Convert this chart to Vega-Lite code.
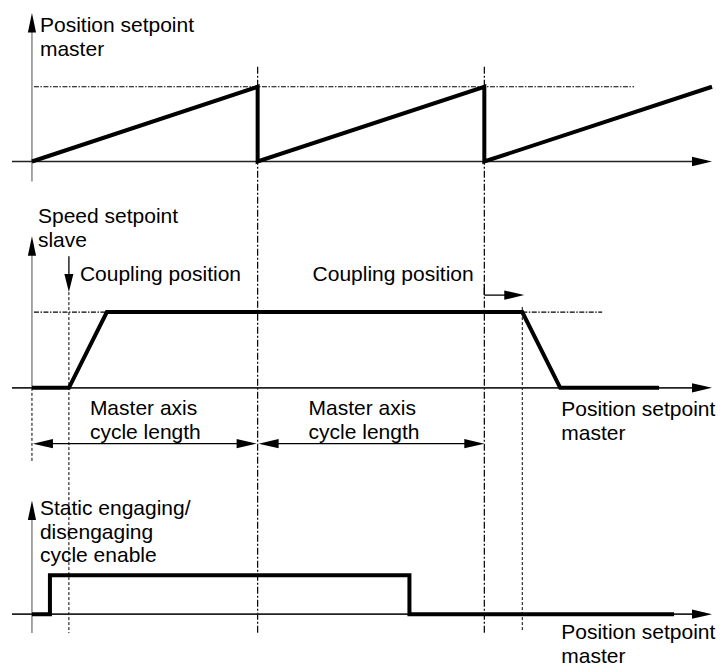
{
  "$schema": "https://vega.github.io/schema/vega-lite/v6.json",
  "width": 720,
  "height": 667,
  "autosize": {"type": "fit", "contains": "padding"},
  "padding": 0,
  "background": "white",
  "config": {"view": {"stroke": null}},
  "datasets": {
    "vaxes": [
      {"x": 32, "y": 30, "x2": 32, "y2": 182},
      {"x": 32, "y": 254, "x2": 32, "y2": 389},
      {"x": 32, "y": 519, "x2": 32, "y2": 635}
    ],
    "haxes": [
      {"x": 12, "y": 162, "x2": 700, "y2": 162},
      {"x": 12, "y": 389, "x2": 700, "y2": 389},
      {"x": 12, "y": 616, "x2": 700, "y2": 616}
    ],
    "thin": [
      {"x": 69, "y": 257, "x2": 69, "y2": 280},
      {"x": 485, "y": 285, "x2": 485, "y2": 296},
      {"x": 485, "y": 296, "x2": 510, "y2": 296},
      {"x": 45, "y": 445, "x2": 245, "y2": 445},
      {"x": 272, "y": 445, "x2": 472, "y2": 445}
    ],
    "dashdot": [
      {"x": 258, "y": 67, "x2": 258, "y2": 635},
      {"x": 485, "y": 67, "x2": 485, "y2": 635}
    ],
    "dashedV": [
      {"x": 69, "y": 293, "x2": 69, "y2": 635},
      {"x": 523, "y": 308, "x2": 523, "y2": 633},
      {"x": 32, "y": 389, "x2": 32, "y2": 463}
    ],
    "dashedH": [
      {"x": 34, "y": 87, "x2": 635, "y2": 87},
      {"x": 34, "y": 313, "x2": 107, "y2": 313},
      {"x": 523, "y": 313, "x2": 603, "y2": 313}
    ],
    "signals": [
      {"sig": "position", "i": 1, "x": 32, "y": 162},
      {"sig": "position", "i": 2, "x": 258, "y": 87},
      {"sig": "position", "i": 3, "x": 258, "y": 162},
      {"sig": "position", "i": 4, "x": 485, "y": 87},
      {"sig": "position", "i": 5, "x": 485, "y": 162},
      {"sig": "position", "i": 6, "x": 713, "y": 87},
      {"sig": "speed", "i": 1, "x": 32, "y": 389},
      {"sig": "speed", "i": 2, "x": 69, "y": 389},
      {"sig": "speed", "i": 3, "x": 107, "y": 313},
      {"sig": "speed", "i": 4, "x": 523, "y": 313},
      {"sig": "speed", "i": 5, "x": 561, "y": 389},
      {"sig": "speed", "i": 6, "x": 660, "y": 389},
      {"sig": "enable", "i": 1, "x": 32, "y": 616},
      {"sig": "enable", "i": 2, "x": 50, "y": 616},
      {"sig": "enable", "i": 3, "x": 50, "y": 577},
      {"sig": "enable", "i": 4, "x": 410, "y": 577},
      {"sig": "enable", "i": 5, "x": 410, "y": 616},
      {"sig": "enable", "i": 6, "x": 675, "y": 616}
    ],
    "up": [
      {"x": 32, "y": 13},
      {"x": 32, "y": 237},
      {"x": 32, "y": 502}
    ],
    "down": [
      {"x": 69, "y": 293}
    ],
    "right": [
      {"x": 713, "y": 162},
      {"x": 713, "y": 389},
      {"x": 713, "y": 616},
      {"x": 525, "y": 296},
      {"x": 257, "y": 445},
      {"x": 485, "y": 445}
    ],
    "left": [
      {"x": 33, "y": 445},
      {"x": 259, "y": 445}
    ],
    "labels": [
      {"x": 40, "y": 32, "text": "Position setpoint"},
      {"x": 40, "y": 56, "text": "master"},
      {"x": 38, "y": 224, "text": "Speed setpoint"},
      {"x": 38, "y": 248, "text": "slave"},
      {"x": 80, "y": 282, "text": "Coupling position"},
      {"x": 313, "y": 282, "text": "Coupling position"},
      {"x": 90, "y": 416, "text": "Master axis"},
      {"x": 90, "y": 440, "text": "cycle length"},
      {"x": 309, "y": 416, "text": "Master axis"},
      {"x": 309, "y": 440, "text": "cycle length"},
      {"x": 562, "y": 417, "text": "Position setpoint"},
      {"x": 562, "y": 441, "text": "master"},
      {"x": 40, "y": 517, "text": "Static engaging/"},
      {"x": 40, "y": 541, "text": "disengaging"},
      {"x": 40, "y": 564, "text": "cycle enable"},
      {"x": 562, "y": 641, "text": "Position setpoint"},
      {"x": 562, "y": 665, "text": "master"}
    ]
  },
  "encoding": {
    "x": {"field": "x", "type": "quantitative", "scale": {"domain": [0, 720], "nice": false, "zero": false}, "axis": null},
    "y": {"field": "y", "type": "quantitative", "scale": {"domain": [0, 667], "nice": false, "zero": false, "reverse": true}, "axis": null}
  },
  "layer": [
    {
      "data": {"name": "dashdot"},
      "mark": {"type": "rule", "color": "black", "strokeWidth": 1.2, "strokeDash": [7, 2, 2, 2]},
      "encoding": {"x2": {"field": "x2"}, "y2": {"field": "y2"}}
    },
    {
      "data": {"name": "dashedV"},
      "mark": {"type": "rule", "color": "black", "strokeWidth": 1, "strokeDash": [3, 2]},
      "encoding": {"x2": {"field": "x2"}, "y2": {"field": "y2"}}
    },
    {
      "data": {"name": "dashedH"},
      "mark": {"type": "rule", "color": "black", "strokeWidth": 1.2, "strokeDash": [5, 1.5, 1.5, 1.5]},
      "encoding": {"x2": {"field": "x2"}, "y2": {"field": "y2"}}
    },
    {
      "data": {"name": "vaxes"},
      "mark": {"type": "rule", "color": "#777777", "strokeWidth": 1.3},
      "encoding": {"x2": {"field": "x2"}, "y2": {"field": "y2"}}
    },
    {
      "data": {"name": "haxes"},
      "mark": {"type": "rule", "color": "#222222", "strokeWidth": 1.6},
      "encoding": {"x2": {"field": "x2"}, "y2": {"field": "y2"}}
    },
    {
      "data": {"name": "thin"},
      "mark": {"type": "rule", "color": "black", "strokeWidth": 1.3},
      "encoding": {"x2": {"field": "x2"}, "y2": {"field": "y2"}}
    },
    {
      "data": {"name": "signals"},
      "mark": {"type": "line", "color": "black", "strokeWidth": 4, "strokeJoin": "miter", "strokeCap": "butt"},
      "encoding": {
        "detail": {"field": "sig", "type": "nominal"},
        "order": {"field": "i", "type": "quantitative"}
      }
    },
    {
      "data": {"name": "up"},
      "mark": {"type": "point", "shape": "M0,0L-0.42,2L0.42,2Z", "size": 380, "filled": true, "color": "black", "opacity": 1, "strokeWidth": 0}
    },
    {
      "data": {"name": "down"},
      "mark": {"type": "point", "shape": "M0,0L-0.5,-2L0.5,-2Z", "size": 324, "filled": true, "color": "black", "opacity": 1, "strokeWidth": 0}
    },
    {
      "data": {"name": "right"},
      "mark": {"type": "point", "shape": "M0,0L-2,-0.47L-2,0.47Z", "size": 400, "filled": true, "color": "black", "opacity": 1, "strokeWidth": 0}
    },
    {
      "data": {"name": "left"},
      "mark": {"type": "point", "shape": "M0,0L2,-0.47L2,0.47Z", "size": 400, "filled": true, "color": "black", "opacity": 1, "strokeWidth": 0}
    },
    {
      "data": {"name": "labels"},
      "mark": {"type": "text", "align": "left", "baseline": "alphabetic", "font": "Liberation Sans", "fontSize": 21, "color": "black"},
      "encoding": {"text": {"field": "text", "type": "nominal"}}
    }
  ]
}
